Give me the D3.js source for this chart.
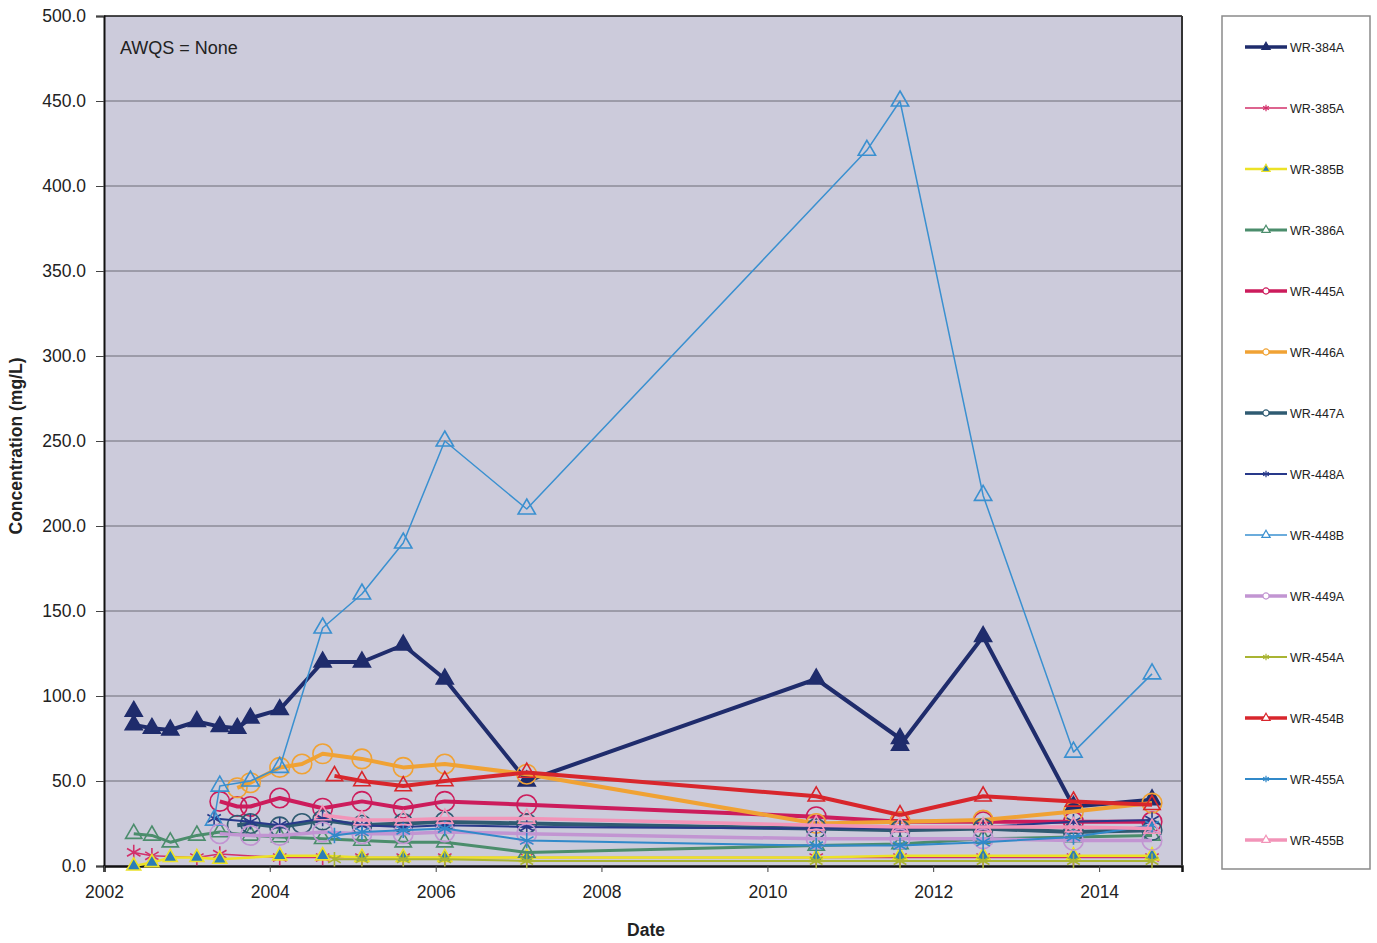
<!DOCTYPE html>
<html>
<head>
<meta charset="utf-8">
<script src="https://cdn.jsdelivr.net/npm/d3@7"></script>
<style>
  body { margin: 0; background: #fff; }
  text { font-family: "Liberation Sans", Arial, sans-serif; }
</style>
</head>
<body>
<div id="vis"></div>
<script>
const W = 1377, H = 943;
const M = { left: 104, right: 1182, top: 16, bottom: 866 };

// ############
// data (date, mg/L)
// ############
const seriesNames = ["WR-384A", "WR-385A", "WR-385B", "WR-386A", "WR-445A", "WR-446A", "WR-447A",
  "WR-448A", "WR-448B", "WR-449A", "WR-454A", "WR-454B", "WR-455A", "WR-455B"];

const wr384A = [["2002-05-12",91],["2002-05-12",83],["2002-07-31",81],["2002-10-20",80],["2003-02-14",85],
  ["2003-05-26",82],["2003-08-11",81],["2003-10-08",87],["2004-02-14",92],["2004-08-21",120],["2005-02-10",120],
  ["2005-08-11",130],["2006-02-10",110],["2007-02-06",50],["2010-08-04",110],["2011-08-08",75],["2011-08-08",71],
  ["2012-08-08",135],["2013-09-10",35],["2014-08-22",39]];
const wr385A = [["2002-05-12",8],["2002-07-31",6],["2003-02-14",5],["2003-05-26",7],["2004-02-14",5],
  ["2004-08-21",5],["2005-02-10",5],["2005-08-11",5],["2006-02-10",5],["2007-02-06",5],["2010-08-04",5],
  ["2011-08-08",5],["2012-08-08",5],["2013-09-10",5],["2014-08-22",5]];
const wr385B = [["2002-05-12",0],["2002-07-31",2],["2002-10-20",5],["2003-02-14",5],["2003-05-26",4],
  ["2004-02-14",6],["2004-08-21",6],["2005-02-10",5],["2005-08-11",5],["2006-02-10",5],["2007-02-06",5],
  ["2010-08-04",5],["2011-08-08",6],["2012-08-08",6],["2013-09-10",6],["2014-08-22",6]];
const wr386A = [["2002-05-12",19],["2002-07-31",18],["2002-10-20",14],["2003-02-14",18],["2003-05-26",20],
  ["2003-10-08",18],["2004-02-14",17],["2004-08-21",16],["2005-02-10",15],["2005-08-11",14],["2006-02-10",14],
  ["2007-02-06",8],["2010-08-04",12],["2011-08-08",13],["2012-08-08",16],["2013-09-10",17],["2014-08-22",18]];
const wr445A = [["2003-05-26",38],["2003-08-11",35],["2003-10-08",35],["2004-02-14",40],["2004-08-21",34],
  ["2005-02-10",38],["2005-08-11",34],["2006-02-10",38],["2007-02-06",36],["2010-08-04",29],["2011-08-08",26],
  ["2012-08-08",26],["2013-09-10",26],["2014-08-22",26]];
const wr446A = [["2003-08-11",46],["2003-10-08",49],["2004-02-14",58],["2004-05-22",60],["2004-08-21",66],
  ["2005-02-10",63],["2005-08-11",58],["2006-02-10",60],["2007-02-06",54],["2010-08-04",25],["2011-08-08",26],
  ["2012-08-08",27],["2013-09-10",32],["2014-08-22",37]];
const wr447A = [["2003-08-11",24],["2003-10-08",25],["2004-02-14",23],["2004-05-22",25],["2004-08-21",27],
  ["2005-02-10",24],["2005-08-11",25],["2006-02-10",26],["2007-02-06",25],["2010-08-04",22],["2011-08-08",21],
  ["2012-08-08",22],["2013-09-10",20],["2014-08-22",21]];
const wr448A = [["2003-05-01",28],["2003-10-08",26],["2004-02-14",24],["2004-08-21",28],["2005-02-10",24],
  ["2005-08-11",23],["2006-02-10",24],["2007-02-06",23],["2010-08-04",22],["2011-08-08",22],["2012-08-08",23],
  ["2013-09-10",26],["2014-08-22",27]];
const wr448B = [["2003-05-01",27],["2003-05-26",47],["2003-10-08",50],["2004-02-14",58],["2004-08-21",140],
  ["2005-02-10",160],["2005-08-11",190],["2006-02-10",250],["2007-02-06",210],["2011-03-15",421],
  ["2011-08-08",450],["2012-08-08",218],["2013-09-10",67],["2014-08-22",113]];
const wr449A = [["2003-05-26",19],["2003-10-08",18],["2004-02-14",18],["2004-08-21",20],["2005-02-10",19],
  ["2005-08-11",19],["2006-02-10",20],["2007-02-06",19],["2010-08-04",16],["2011-08-08",16],["2012-08-08",16],
  ["2013-09-10",15],["2014-08-22",15]];
const wr454A = [["2004-10-12",4],["2005-02-10",4],["2005-08-11",4],["2006-02-10",4],["2007-02-06",3],
  ["2010-08-04",3],["2011-08-08",3],["2012-08-08",3],["2013-09-10",3],["2014-08-22",3]];
const wr454B = [["2004-10-12",53],["2005-02-10",50],["2005-08-11",47],["2006-02-10",50],["2007-02-06",55],
  ["2010-08-04",41],["2011-08-08",30],["2012-08-08",41],["2013-09-10",38],["2014-08-22",36]];
const wr455A = [["2004-10-12",18],["2005-02-10",20],["2005-08-11",21],["2006-02-10",22],["2007-02-06",15],
  ["2010-08-04",12],["2011-08-08",12],["2012-08-08",14],["2013-09-10",17],["2014-08-22",24]];
const wr455B = [["2004-08-21",30],["2005-02-10",27],["2005-08-11",27],["2006-02-10",28],["2007-02-06",28],
  ["2010-08-04",24],["2011-08-08",23],["2012-08-08",23],["2013-09-10",23],["2014-08-22",22]];

const yTicks = [0, 50, 100, 150, 200, 250, 300, 350, 400, 450, 500];

// ############
// style per series
// ############
const asterisk = d3.symbolAsterisk || d3.symbolCross;
const styles = {
  "WR-384A": { data: wr384A, color: "#1f2c6c", w: 4,   sym: d3.symbolTriangle, size: 125, fill: "#1f2c6c" },
  "WR-385A": { data: wr385A, color: "#d2306a", w: 1.5, sym: asterisk, size: 170, fill: "none" },
  "WR-385B": { data: wr385B, color: "#ece226", w: 2.5, sym: d3.symbolTriangle, size: 85, fill: "#2a7db8" },
  "WR-386A": { data: wr386A, color: "#4b8d6c", w: 3,   sym: d3.symbolTriangle, size: 115, fill: "none" },
  "WR-445A": { data: wr445A, color: "#cc1c5c", w: 4,   sym: d3.symbolCircle, size: 300, fill: "none" },
  "WR-446A": { data: wr446A, color: "#f0a234", w: 4,   sym: d3.symbolCircle, size: 300, fill: "none" },
  "WR-447A": { data: wr447A, color: "#2f5b72", w: 4,   sym: d3.symbolCircle, size: 300, fill: "none" },
  "WR-448A": { data: wr448A, color: "#28398a", w: 2,   sym: asterisk, size: 170, fill: "none" },
  "WR-448B": { data: wr448B, color: "#3a90d0", w: 1.5, sym: d3.symbolTriangle, size: 130, fill: "none" },
  "WR-449A": { data: wr449A, color: "#c295d2", w: 3.5, sym: d3.symbolCircle, size: 300, fill: "none" },
  "WR-454A": { data: wr454A, color: "#a9b432", w: 2,   sym: asterisk, size: 150, fill: "none" },
  "WR-454B": { data: wr454B, color: "#d8262c", w: 4,   sym: d3.symbolTriangle, size: 115, fill: "none" },
  "WR-455A": { data: wr455A, color: "#3189c9", w: 2,   sym: asterisk, size: 170, fill: "none" },
  "WR-455B": { data: wr455B, color: "#f294b8", w: 3.5, sym: d3.symbolTriangle, size: 115, fill: "none" }
};

const parse = d3.timeParse("%Y-%m-%d");

const x = d3.scaleTime()
  .domain([new Date(2002, 0, 1), new Date(2015, 0, 1)])
  .range([M.left, M.right]);
const y = d3.scaleLinear().domain([0, 500]).range([M.bottom, M.top]);

const svg = d3.select("#vis").append("svg").attr("width", W).attr("height", H);

// plot background
svg.append("rect")
  .attr("x", M.left).attr("y", M.top)
  .attr("width", M.right - M.left).attr("height", M.bottom - M.top)
  .attr("fill", "#cccbdb");

// gridlines
svg.append("g")
  .selectAll("line")
  .data(yTicks.filter((d) => d > 0 && d < 500))
  .join("line")
  .attr("x1", M.left).attr("x2", M.right)
  .attr("y1", (d) => y(d)).attr("y2", (d) => y(d))
  .attr("stroke", "#6d6d76").attr("stroke-width", 1);

// y axis
const yAxis = svg.append("g")
  .attr("transform", "translate(" + M.left + ",0)")
  .call(d3.axisLeft(y).tickValues(yTicks).tickFormat(d3.format(".1f")).tickSize(8).tickPadding(10));
yAxis.select(".domain").attr("stroke", "#111").attr("stroke-width", 2);
yAxis.selectAll(".tick line").attr("stroke", "#444");
yAxis.selectAll("text").attr("font-size", 17.5).attr("fill", "#222")
  .style("font-family", "'Liberation Sans', Arial, sans-serif");

// x axis
const xAxis = svg.append("g")
  .attr("transform", "translate(0," + M.bottom + ")")
  .call(d3.axisBottom(x).ticks(d3.timeYear.every(2)).tickFormat(d3.timeFormat("%Y")).tickSize(6).tickPadding(14));
xAxis.select(".domain").attr("stroke", "#111").attr("stroke-width", 2.5);
xAxis.selectAll(".tick line").attr("stroke", "#444");
xAxis.selectAll("text").attr("font-size", 17.5).attr("fill", "#222")
  .style("font-family", "'Liberation Sans', Arial, sans-serif");

// top / right frame
svg.append("line").attr("x1", M.left).attr("x2", M.right).attr("y1", M.top).attr("y2", M.top)
  .attr("stroke", "#111").attr("stroke-width", 1.5);
svg.append("line").attr("x1", M.right).attr("x2", M.right).attr("y1", M.top).attr("y2", M.bottom)
  .attr("stroke", "#333").attr("stroke-width", 2);

// series
const line = d3.line()
  .x((d) => x(parse(d[0])))
  .y((d) => y(d[1]));

const series = svg.append("g")
  .selectAll("g.series")
  .data(seriesNames)
  .join("g")
  .attr("class", "series");

series.append("path")
  .attr("d", (n) => line(styles[n].data))
  .attr("fill", "none")
  .attr("stroke", (n) => styles[n].color)
  .attr("stroke-width", (n) => styles[n].w)
  .attr("stroke-linejoin", "round");

series.each(function (n) {
  const s = styles[n];
  d3.select(this)
    .selectAll("path.marker")
    .data(s.data)
    .join("path")
    .attr("class", "marker")
    .attr("transform", (d) => "translate(" + x(parse(d[0])) + "," + y(d[1]) + ")")
    .attr("d", d3.symbol().type(s.sym).size(s.size))
    .attr("fill", s.fill)
    .attr("stroke", s.color)
    .attr("stroke-width", 1.6);
});

// AWQS note
svg.append("text")
  .attr("x", 120).attr("y", 54)
  .attr("font-size", 18).attr("fill", "#222")
  .text("AWQS = None");

// axis titles
svg.append("text")
  .attr("transform", "translate(22,446) rotate(-90)")
  .attr("text-anchor", "middle")
  .attr("font-size", 17.5).attr("font-weight", "bold").attr("fill", "#222")
  .text("Concentration (mg/L)");

svg.append("text")
  .attr("x", 646).attr("y", 936)
  .attr("text-anchor", "middle")
  .attr("font-size", 17.5).attr("font-weight", "bold").attr("fill", "#222")
  .text("Date");

// legend
svg.append("rect")
  .attr("x", 1222).attr("y", 16).attr("width", 148).attr("height", 853)
  .attr("fill", "#fff").attr("stroke", "#8a8a8a").attr("stroke-width", 1.5);

const legend = svg.append("g")
  .selectAll("g")
  .data(seriesNames)
  .join("g")
  .attr("transform", (d, i) => "translate(1245," + (47 + i * 61) + ")");

legend.append("line")
  .attr("x1", 0).attr("x2", 42)
  .attr("stroke", (n) => styles[n].color)
  .attr("stroke-width", (n) => Math.min(styles[n].w, 3.5));

legend.append("path")
  .attr("transform", "translate(21,0)")
  .attr("d", (n) => d3.symbol().type(styles[n].sym).size(30)())
  .attr("fill", (n) => (styles[n].fill === "none" ? "#fff" : styles[n].fill))
  .attr("stroke", (n) => styles[n].color)
  .attr("stroke-width", 1.2);

legend.append("text")
  .attr("x", 45).attr("y", 4.5)
  .attr("font-size", 12.5).attr("fill", "#222")
  .text((n) => n);
</script>
</body>
</html>
